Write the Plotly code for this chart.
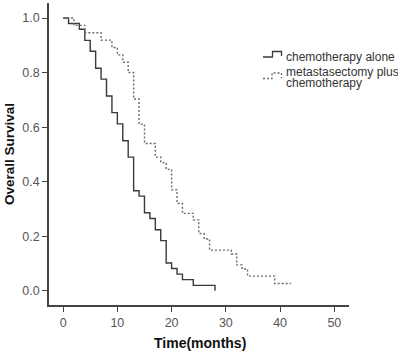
import plotly.graph_objects as go

# Kaplan-Meier curves
time_chemo = [0, 1, 3, 4, 5, 6, 7, 8, 9, 10, 11, 12, 13, 14, 15, 16, 17, 18, 19, 20, 21, 22, 24, 28]
surv_chemo = [1.0, 0.98, 0.959, 0.918, 0.878, 0.816, 0.776, 0.714, 0.653, 0.612, 0.55, 0.49,
              0.367, 0.347, 0.286, 0.265, 0.224, 0.184, 0.102, 0.082, 0.061, 0.041, 0.020, 0.0]

time_meta = [0, 2, 4, 7, 9, 10, 11, 12, 13, 14, 15, 17, 18, 19, 20, 21, 22, 24, 25, 26, 27,
             31, 32, 33, 34, 39, 42]
surv_meta = [1.0, 0.973, 0.946, 0.919, 0.892, 0.865, 0.838, 0.80, 0.703, 0.61, 0.54, 0.49, 0.47,
             0.445, 0.37, 0.32, 0.284, 0.26, 0.21, 0.19, 0.149, 0.135, 0.095, 0.08, 0.054, 0.027, 0.027]

x_ticks = [0, 10, 20, 30, 40, 50]
y_ticks = [0.0, 0.2, 0.4, 0.6, 0.8, 1.0]
legend_names = ["chemotherapy alone", "metastasectomy plus", "chemotherapy"]

FONT = "Liberation Sans, Arial, sans-serif"
W, H = 398, 355
L, R, T, B = 49, 349, 3, 305  # plot area in pixels


def px(x):
    return (x - L) / (R - L)


def py(y):
    return (B - y) / (B - T)


fig = go.Figure()
fig.add_trace(go.Scatter(x=time_chemo, y=surv_chemo, mode="lines", line_shape="hv",
                         line=dict(color="#3a3a3a", width=1.4), name=legend_names[0]))
fig.add_trace(go.Scatter(x=time_meta, y=surv_meta, mode="lines", line_shape="hv",
                         line=dict(color="#6a6a6a", width=1.4, dash="2px,2px"),
                         name=legend_names[1] + " " + legend_names[2]))

# custom legend (step icons + text)
shapes = [
    dict(type="path", xref="paper", yref="paper",
         path=f"M {px(263)} {py(57)} L {px(272.5)} {py(57)} L {px(272.5)} {py(51.5)} "
              f"L {px(281.5)} {py(51.5)} L {px(281.5)} {py(56)}",
         line=dict(color="#3a3a3a", width=1.3)),
    dict(type="path", xref="paper", yref="paper",
         path=f"M {px(263)} {py(78.5)} L {px(272)} {py(78.5)} L {px(272)} {py(73)} "
              f"L {px(281.5)} {py(73)} L {px(281.5)} {py(78)}",
         line=dict(color="#6a6a6a", width=1.3, dash="2px,2px")),
]

annotations = [
    dict(text=legend_names[0], x=px(284), y=py(57), xref="paper", yref="paper",
         xanchor="left", yanchor="middle", showarrow=False,
         font=dict(family=FONT, size=12, color="#333333")),
    dict(text=legend_names[1], x=px(284), y=py(72), xref="paper", yref="paper",
         xanchor="left", yanchor="middle", showarrow=False,
         font=dict(family=FONT, size=12, color="#333333")),
    dict(text=legend_names[2], x=px(284), y=py(83.5), xref="paper", yref="paper",
         xanchor="left", yanchor="middle", showarrow=False,
         font=dict(family=FONT, size=12, color="#333333")),
    dict(text="<b>Overall Survival</b>", x=px(9), y=py(154), xref="paper", yref="paper",
         xanchor="center", yanchor="middle", textangle=-90, showarrow=False,
         font=dict(family=FONT, size=13.5, color="#111111")),
    dict(text="<b>Time(months)</b>", x=px(199.5), y=py(343), xref="paper", yref="paper",
         xanchor="center", yanchor="middle", showarrow=False,
         font=dict(family=FONT, size=14, color="#111111")),
]

fig.update_layout(
    width=W, height=H,
    margin=dict(l=L, r=W - R, t=T, b=H - B, pad=0),
    paper_bgcolor="white", plot_bgcolor="white",
    showlegend=False,
    shapes=shapes, annotations=annotations,
    font=dict(family=FONT),
)
fig.update_xaxes(range=[-2.6, 52.7], tickvals=x_ticks, ticks="outside", ticklen=5,
                 tickwidth=1.3, tickcolor="#444444", showline=True, linecolor="#444444",
                 linewidth=1.5, showgrid=False, zeroline=False,
                 tickfont=dict(family=FONT, size=12.5, color="#555555"))
fig.update_yaxes(range=[-0.052, 1.055], tickvals=y_ticks, tickformat=".1f", ticks="outside",
                 ticklen=5, tickwidth=1.3, tickcolor="#444444", showline=True,
                 linecolor="#444444", linewidth=1.5, showgrid=False, zeroline=False,
                 tickfont=dict(family=FONT, size=12.5, color="#555555"))

fig.write_html(
    "out.html",
    config={"displayModeBar": False},
    post_script="document.body.style.margin='0';document.body.style.overflow='hidden';"
                "document.documentElement.style.overflow='hidden';",
)
